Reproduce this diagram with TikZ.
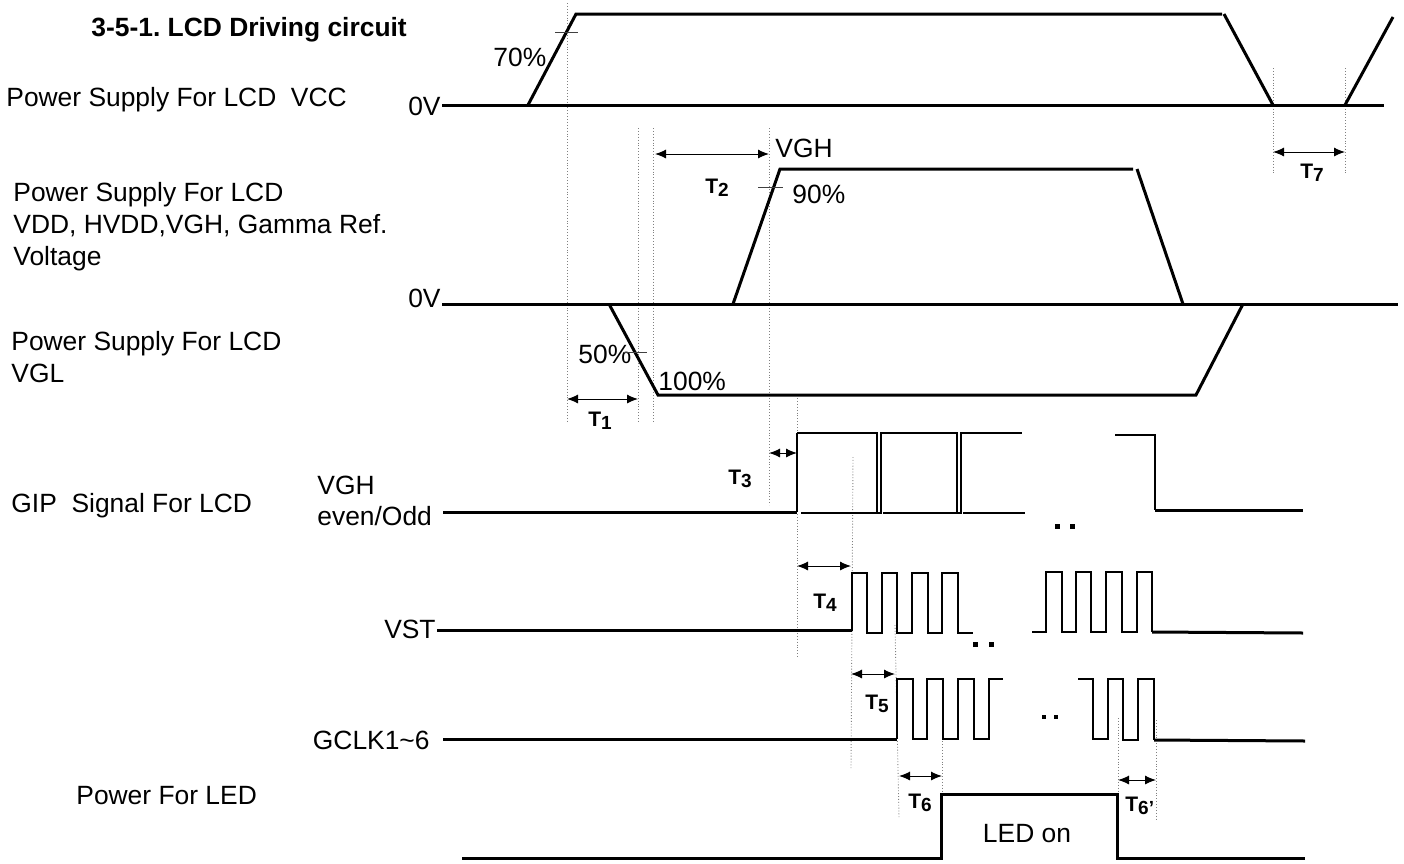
\documentclass[tikz,border=0pt]{standalone}
\usepackage{fontspec}
\setmainfont{Liberation Sans}
\usetikzlibrary{arrows.meta}
\frenchspacing
\newcommand\Tlab[1]{T\raisebox{-0.3ex}{\fontsize{9.5}{10}\selectfont #1}}
\begin{document}
\begin{tikzpicture}[x=0.5pt,y=-0.5pt,
  sig/.style={line width=1.5pt, line join=miter},
  pulse/.style={line width=1pt, line join=miter},
  thinp/.style={line width=0.75pt, line join=miter},
  guide/.style={densely dotted, line width=0.45pt, gray},
  dim/.style={line width=0.5pt, {Latex[length=5.5pt,width=4.5pt]}-{Latex[length=5.5pt,width=4.5pt]}},
  lbl/.style={font=\fontsize{13.2}{16}\selectfont, inner sep=0pt, anchor=base west},
  lble/.style={font=\fontsize{13.2}{16}\selectfont, inner sep=0pt, anchor=base east},
  tl/.style={font=\fontsize{10.5}{12}\selectfont\bfseries, inner sep=0pt, anchor=base west},
  tick/.style={line width=0.5pt, black!75},
  dotsq/.style={fill=black}
]
\useasboundingbox (0,0) rectangle (1404,863);

% ---------- left labels ----------
\node[lbl, font=\fontsize{13.2}{16}\selectfont\bfseries] (title) at (91,36) {3-5-1. LCD Driving circuit};
\node[lbl] (vcc) at (6,106) {Power Supply For LCD\ \ VCC};
\node[lbl] (vdda) at (13,201) {Power Supply For LCD};
\node[lbl] (vddb) at (13,233) {VDD, HVDD,VGH, Gamma Ref.};
\node[lbl] (vddc) at (13,265) {Voltage};
\node[lbl] (vgla) at (11,350) {Power Supply For LCD};
\node[lbl] (vglb) at (11,382) {VGL};
\node[lbl] (gip) at (11,512) {GIP\ \ Signal For LCD};
\node[lbl] (vghl) at (317,494) {VGH};
\node[lbl] (eo) at (317,525) {even/Odd};
\node[lble] (vst) at (436,638) {VST};
\node[lble] (gclk) at (430,749) {GCLK1\textasciitilde 6};
\node[lbl] (led) at (76,804) {Power For LED};

% ---------- level labels ----------
\node[lble] (zeroa) at (441,115) {0V};
\node[lble] (zerob) at (441,307) {0V};
\node[lbl] (p70) at (493,66) {70\%};
\node[lbl] (vghtop) at (775,157) {VGH};
\node[lbl] (p90) at (792,203) {90\%};
\node[lbl] (p50) at (578,363) {50\%};
\node[lbl] (p100) at (658,390) {100\%};
\node[lbl, anchor=base] (ledon) at (1027,842) {LED on};

% ---------- guide (dotted) lines ----------
\coordinate (ga) at (567,3);    \coordinate (gab) at (567,423);
\coordinate (gb) at (638,128);  \coordinate (gbb) at (638,423);
\coordinate (gc) at (653,128);  \coordinate (gcb) at (653,423);
\coordinate (gd) at (769,128);  \coordinate (gdb) at (769,505);
\coordinate (ge) at (797,398);  \coordinate (geb) at (797,658);
\coordinate (gf) at (853,457);  \coordinate (gfb) at (851,770);
\coordinate (gg) at (895,625);  \coordinate (ggb) at (899,817);
\coordinate (gh) at (942,718);  \coordinate (ghb) at (942,795);
\coordinate (gi) at (1118,718); \coordinate (gib) at (1118,795);
\coordinate (gj) at (1156,720); \coordinate (gjb) at (1156,820);
\coordinate (gk) at (1273,68);  \coordinate (gkb) at (1273,173);
\coordinate (gl) at (1345,68);  \coordinate (glb) at (1345,173);
\foreach \a/\b in {ga/gab,gb/gbb,gc/gcb,gd/gdb,ge/geb,gf/gfb,gg/ggb,gh/ghb,gi/gib,gj/gjb,gk/gkb,gl/glb}
  \draw[guide] (\a) -- (\b);

% ---------- VCC ----------
\draw[sig] (442,105) -- (1384,105);
\draw[sig] (528,105) -- (576,14) -- (1222,14);
\draw[sig] (1224,14) -- (1273,105);
\draw[sig] (1345,105) -- (1393,17);
\draw[tick] (555,32) -- (578,32);

% ---------- VDD / VGH ----------
\draw[sig] (442,304) -- (1398,304);
\draw[sig] (733,304) -- (780,169) -- (1133,169);
\draw[sig] (1137,169) -- (1183,304);
\draw[tick] (758,187) -- (783,187);

% ---------- VGL ----------
\draw[sig] (609,304) -- (658,395) -- (1196,395) -- (1243,304);
\draw[tick] (623,352) -- (647,352);

% ---------- VGH even/odd ----------
\draw[sig] (443,512) -- (797,512);
\draw[pulse] (797,512) -- (797,433);
\draw[thinp] (797,433) -- (877,433) -- (877,513);
\draw[thinp] (801,513) -- (881,513) -- (881,433) -- (957,433) -- (957,513);
\draw[thinp] (883,513) -- (961,513) -- (961,433) -- (1022,433);
\draw[thinp] (963,513) -- (1025,513);
\draw[thinp] (1115,435) -- (1155,435) -- (1155,510);
\draw[sig] (1155,510) -- (1303,510);
\fill[dotsq] (1055,524) rectangle (1060,529);
\fill[dotsq] (1070,524) rectangle (1075,529);

% ---------- VST ----------
\draw[sig] (437,630) -- (852,630);
\draw[pulse] (852,631) -- (852,573) -- (867,573) -- (867,633) -- (882,633) -- (882,573)
  -- (897,573) -- (897,633) -- (912,633) -- (912,573) -- (928,573) -- (928,633)
  -- (942,633) -- (942,573) -- (958,573) -- (958,633) -- (973,633);
\draw[pulse] (1032,632) -- (1046,632) -- (1046,572) -- (1062,572) -- (1062,632) -- (1076,632)
  -- (1076,572) -- (1091,572) -- (1091,632) -- (1106,632) -- (1106,572) -- (1122,572)
  -- (1122,632) -- (1137,632) -- (1137,572) -- (1152,572) -- (1152,632);
\draw[sig] (1152,632) -- (1303,633);
\fill[dotsq] (973,642) rectangle (978,647);
\fill[dotsq] (989,642) rectangle (994,647);

% ---------- GCLK ----------
\draw[sig] (443,739) -- (897,739);
\draw[pulse] (897,739) -- (897,679) -- (913,679) -- (913,739) -- (927,739) -- (927,679)
  -- (943,679) -- (943,739) -- (958,739) -- (958,679) -- (974,679) -- (974,739)
  -- (989,739) -- (989,679) -- (1003,679);
\draw[pulse] (1078,679) -- (1093,679) -- (1093,739) -- (1108,739) -- (1108,679) -- (1123,679)
  -- (1123,740) -- (1138,740) -- (1138,679) -- (1154,679) -- (1154,740);
\draw[sig] (1154,740) -- (1305,741);
\fill[dotsq] (1042,715) rectangle (1046,719);
\fill[dotsq] (1054,715) rectangle (1058,719);

% ---------- LED ----------
\draw[sig] (462,858) -- (941,858) -- (941,794) -- (1117,794) -- (1117,858) -- (1305,858);

% ---------- timing arrows ----------
\coordinate (a1l) at (567,399);  \coordinate (a1r) at (638,399);
\coordinate (a2l) at (655,154);  \coordinate (a2r) at (769,154);
\coordinate (a3l) at (769,453);  \coordinate (a3r) at (797,453);
\coordinate (a4l) at (797,566);  \coordinate (a4r) at (851,566);
\coordinate (a5l) at (851,674);  \coordinate (a5r) at (895,674);
\coordinate (a6l) at (899,776);  \coordinate (a6r) at (942,776);
\coordinate (a7l) at (1118,780); \coordinate (a7r) at (1156,780);
\coordinate (a8l) at (1273,152); \coordinate (a8r) at (1345,152);
\foreach \l/\r in {a1l/a1r,a2l/a2r,a3l/a3r,a4l/a4r,a5l/a5r,a6l/a6r,a7l/a7r,a8l/a8r}
  \draw[dim] (\l) -- (\r);

\node[tl] (t1) at (588,426) {\Tlab{1}};
\node[tl] (t2) at (705,193) {\Tlab{2}};
\node[tl] (t3) at (728,484) {\Tlab{3}};
\node[tl] (t4) at (813,608) {\Tlab{4}};
\node[tl] (t5) at (865,709) {\Tlab{5}};
\node[tl] (t6) at (908,808) {\Tlab{6}};
\node[tl] (t6p) at (1125,811) {\Tlab{6’}};
\node[tl] (t7) at (1300,178) {\Tlab{7}};
\end{tikzpicture}
\end{document}
